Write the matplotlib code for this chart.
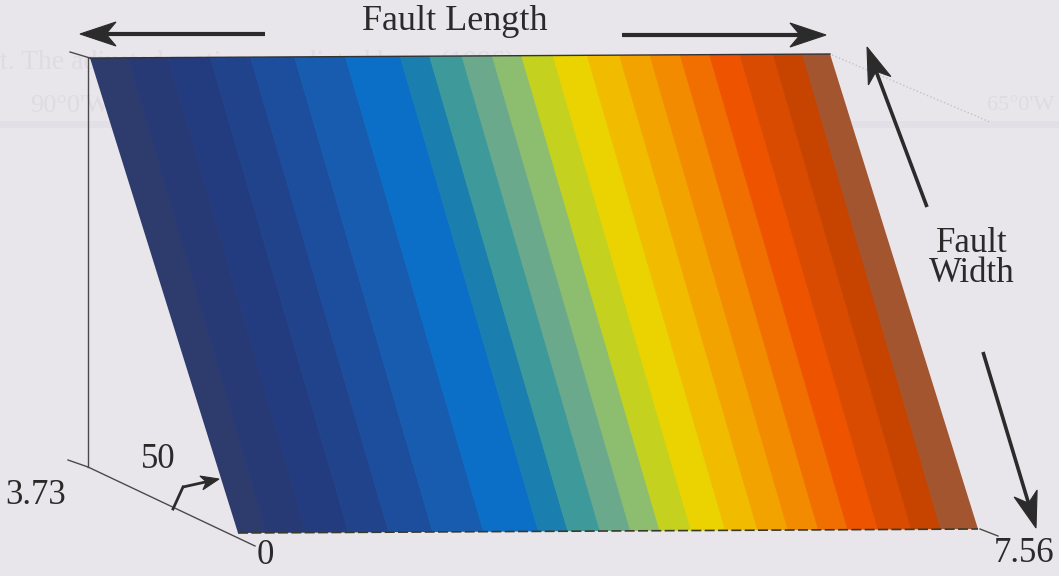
import numpy as np
import matplotlib.pyplot as plt
from matplotlib.patches import Polygon
from matplotlib.transforms import Affine2D

plt.rcParams['font.family'] = ['Liberation Serif', 'DejaVu Serif']

# fault plane: along-strike length and down-dip width
fault_length = 7.56
fault_width = 3.73

# stripe edges along strike (top of the fault) and their colours
stripe_edges = [0, 0.39, 0.80, 1.23, 1.64, 2.09, 2.61, 3.17, 3.47, 3.80, 4.11,
                4.41, 4.73, 5.08, 5.41, 5.72, 6.03, 6.33, 6.64, 6.98, 7.28, 7.56]
stripe_colors = ['#2d3c6c', '#283a76', '#233c80', '#20438c', '#1d4d9d', '#185cb0',
                 '#0b6fc8', '#1a7fae', '#3e9a9a', '#6aa98c', '#8dbd6e', '#c4d21f',
                 '#ead300', '#f1bb00', '#f2a300', '#f28b00', '#f06f00', '#ee5300',
                 '#d84b00', '#c64400', '#a2552f']
stripe_skew = 0.10   # stripes lean a little less than the plane

corner_labels = ['3.73', '50', '0', '7.56']

fig = plt.figure(figsize=(10.59, 5.76), dpi=100)
fig.patch.set_facecolor('#e8e6eb')
ax = fig.add_axes([0, 0, 1, 1])
ax.set_xlim(0, 1059)
ax.set_ylim(576, 0)
ax.axis('off')

# faint print-through from the next page
ghost = '#dedce2'
ax.text(0, 62, 't. The adjusted motions predicted by ... (1996).', fontsize=20,
        color=ghost, va='center', zorder=0)
ax.text(30, 106, "90°0'W", fontsize=19, color=ghost, va='center', zorder=0)
ax.text(1054, 106, "65°0'W", fontsize=16, color=ghost, ha='right', va='center',
        zorder=0)
ax.axhspan(121, 128, color='#e2e0e6', zorder=0, lw=0)

# map fault coordinates (strike, dip) onto the page
sx = 740 / fault_length
plane = Affine2D(np.array([[sx, 148 / fault_width, 90],
                           [-4 / fault_length, 475 / fault_width, 58],
                           [0, 0, 1]]))
tr = plane + ax.transData

outline = Polygon([(0, 0), (fault_length, 0), (fault_length, fault_width),
                   (0, fault_width)], closed=True, transform=tr,
                  facecolor='none', edgecolor='none')
ax.add_patch(outline)

n = len(stripe_colors)
for i in range(n):
    left = stripe_edges[i] - (1 if i == 0 else 0)
    right = stripe_edges[i + 1] + (1 if i == n - 1 else 0)
    p = Polygon([(left, 0), (right, 0), (right - stripe_skew, fault_width),
                 (left - stripe_skew, fault_width)], closed=True, transform=tr,
                facecolor=stripe_colors[i], edgecolor=stripe_colors[i], lw=0.6,
                zorder=2)
    ax.add_patch(p)
    p.set_clip_path(outline)

# top and bottom edges of the plane
ax.plot([0, fault_length], [0, 0], color='#333333', lw=1, transform=tr, zorder=3)
ax.plot([0, fault_length], [fault_width, fault_width], color='#3a3a2a', lw=1.2,
        ls=(0, (6, 2)), transform=tr, zorder=3)

# box frame lines
line_kw = dict(color='#4a4a4a', lw=1, zorder=1)
ax.plot([70, 90], [52, 58], **line_kw)
ax.plot([88, 88], [58, 467], **line_kw)
ax.plot([68, 88], [460, 467], **line_kw)
ax.plot([88, 255], [467, 546], **line_kw)
ax.plot([980, 998], [529, 536], **line_kw)
ax.plot([832, 990], [55, 122], color='#c4c2c8', lw=1, ls=':', zorder=1)


def arrow(tail, tip, head_len, half_w, lw, color='#2b2b2b'):
    tail = np.array(tail, float)
    tip = np.array(tip, float)
    u = (tip - tail) / np.hypot(*(tip - tail))
    nrm = np.array([-u[1], u[0]])
    base = tip - u * head_len
    notch = tip - u * head_len * 0.72
    ax.plot([tail[0], notch[0]], [tail[1], notch[1]], color=color, lw=lw,
            solid_capstyle='butt', zorder=4)
    head = [tip, base + nrm * half_w, notch, base - nrm * half_w]
    ax.add_patch(Polygon(head, closed=True, facecolor=color, edgecolor=color,
                         lw=0.8, zorder=4))


arrow((265, 34), (80, 34), 36, 12, 3)
arrow((622, 35), (826, 35), 36, 12, 3)
arrow((927, 207), (867, 47), 36, 12, 2.6)
arrow((983, 352), (1036, 528), 36, 12, 2.6)

# small dip-direction arrow
ax.plot([173, 183], [509, 487], color='#2b2b2b', lw=2, zorder=4)
arrow((183, 487), (219, 479), 18, 7, 2)

fs = 25
ax.text(455, 21, 'Fault Length', fontsize=26, ha='center', va='center', color='#2a2a2a')
ax.text(972, 243, 'Fault', fontsize=fs, ha='center', va='center', color='#2a2a2a')
ax.text(972, 273, 'Width', fontsize=fs, ha='center', va='center', color='#2a2a2a')

ax.text(36, 495, corner_labels[0], fontsize=fs, ha='center', va='center', color='#2a2a2a')
ax.text(158, 459, corner_labels[1], fontsize=fs, ha='center', va='center', color='#2a2a2a')
ax.text(265, 556, corner_labels[2], fontsize=fs, ha='center', va='center', color='#2a2a2a')
ax.text(1024, 553, corner_labels[3], fontsize=fs, ha='center', va='center', color='#2a2a2a')

fig.savefig('out.png', dpi=100, facecolor=fig.get_facecolor())
